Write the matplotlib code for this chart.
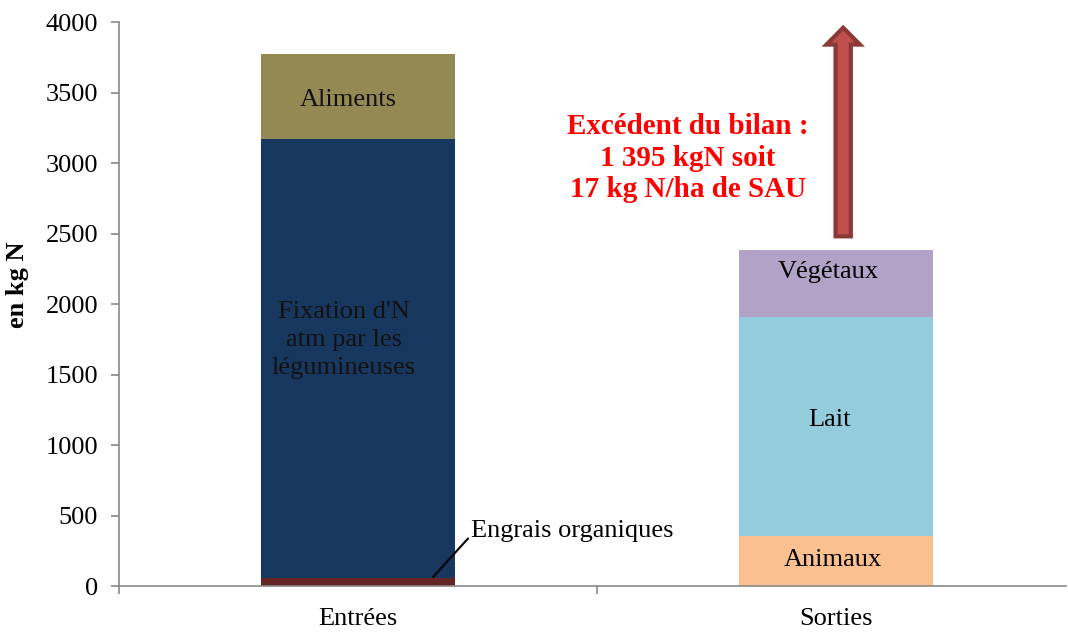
import matplotlib
matplotlib.use("Agg")
import matplotlib.pyplot as plt
from matplotlib.patches import FancyArrow

plt.rcParams['font.family'] = ['Liberation Serif', 'DejaVu Serif']

categories = ["Entrées", "Sorties"]
entrees_labels = ["Engrais organiques", "Fixation d'N\natm par les\nlégumineuses", "Aliments"]
entrees_values = [60, 3110, 605]
entrees_colors = ["#632523", "#17375E", "#938953"]
sorties_labels = ["Animaux", "Lait", "Végétaux"]
sorties_values = [355, 1550, 475]
sorties_colors = ["#FAC090", "#93CDDD", "#B2A2C7"]

fig = plt.figure(figsize=(10.68, 6.33), dpi=100)
ax = fig.add_axes([0.1114, 0.0742, 0.8867, 0.891])

w = 0.405
bottom = 0
for lab, v, c in zip(entrees_labels, entrees_values, entrees_colors):
    ax.bar(0, v, w, bottom=bottom, color=c)
    bottom += v
total_in = bottom
bottom = 0
for lab, v, c in zip(sorties_labels, sorties_values, sorties_colors):
    ax.bar(1, v, w, bottom=bottom, color=c)
    bottom += v
total_out = bottom

fs = 19
# labels inside bars
ax.text(-0.03, 1744, entrees_labels[1], ha="center", va="center",
        fontsize=fs, color="#111111", linespacing=1.35)
ax.text(-0.02, 3445, "Aliments", ha="center", va="center", fontsize=fs, color="#111111")
ax.text(0.994, 184, "Animaux", ha="center", va="center", fontsize=fs)
ax.text(0.987, 1177, "Lait", ha="center", va="center", fontsize=fs)
ax.text(0.983, 2226, "Végétaux", ha="center", va="center", fontsize=fs)

ax.annotate("Engrais organiques", xy=(0.157, 64), xytext=(0.236, 390),
            fontsize=fs, ha="left", va="center",
            arrowprops=dict(arrowstyle="-", color="black", lw=1.5, shrinkA=0, shrinkB=0,
                            relpos=(0, 0.3)))

# surplus arrow
ax.add_patch(FancyArrow(1.015, total_out + 100, 0, 3960 - total_out - 100, width=0.032,
                        head_width=0.07, head_length=120, length_includes_head=True,
                        facecolor="#C0504D", edgecolor="#8C3836", lw=3))
ax.text(0.69, 3035, "Excédent du bilan :\n1 395 kgN soit\n17 kg N/ha de SAU", ha="center", va="center",
        fontsize=21, fontweight="bold", color="#FF0000", linespacing=1.22)

ax.set_xlim(-0.5, 1.481)
ax.set_ylim(0, 4000)
ax.set_yticks(range(0, 4001, 500))
ax.set_xticks([0, 1])
ax.set_xticklabels(categories)
ax.set_xticks([-0.5, 0.5], minor=True)
ax.tick_params(axis="x", which="major", length=0, pad=16, labelsize=fs)
ax.tick_params(axis="x", which="minor", length=6, color="#888888", width=1.2)
ax.tick_params(axis="y", length=6, color="#888888", width=1.2, labelsize=fs, pad=9)
ax.set_ylabel("en kg N", fontsize=fs, fontweight="bold")
ax.yaxis.set_label_coords(-0.095, 0.534)
for s in ["top", "right"]:
    ax.spines[s].set_visible(False)
for s in ["left", "bottom"]:
    ax.spines[s].set_color("#888888")
    ax.spines[s].set_linewidth(1.2)

fig.savefig("out.png", dpi=100)
